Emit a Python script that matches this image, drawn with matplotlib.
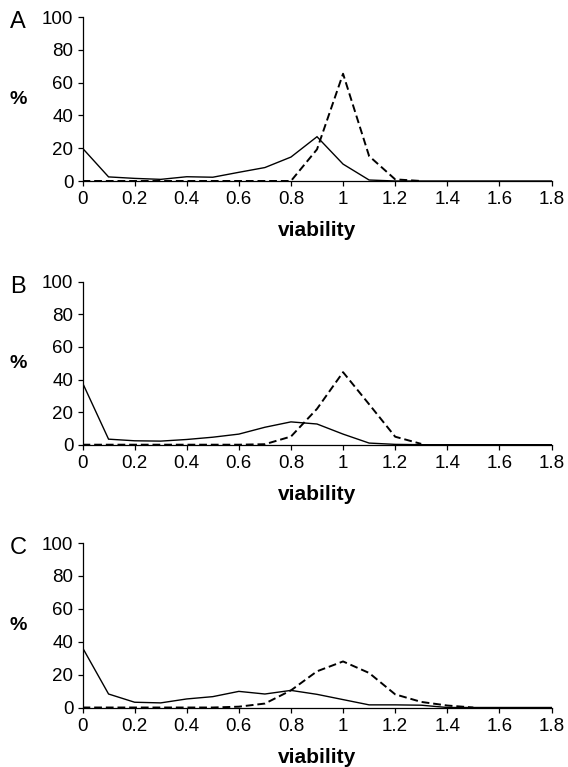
import matplotlib
matplotlib.use("Agg")
from matplotlib import pyplot as plt

plt.rcParams['font.family'] = ['Liberation Sans', 'DejaVu Sans']

# viability bins
viability = [0.0, 0.1, 0.2, 0.3, 0.4, 0.5, 0.6, 0.7, 0.8, 0.9,
             1.0, 1.1, 1.2, 1.3, 1.4, 1.5, 1.6, 1.7, 1.8]

# panel A
a_solid = [20, 2.5, 1.6, 1.0, 2.6, 2.3, 5.3, 8.2, 14.6, 27,
           10.3, 0.6, 0, 0, 0, 0, 0, 0, 0]
a_dashed = [0, 0, 0, 0, 0, 0, 0, 0, 0, 19.3, 65.4, 15.2, 1.0, 0]

# panel B
b_solid = [38, 3.4, 2.4, 2.2, 3.2, 4.6, 6.5, 10.7, 14, 12.7,
           6.5, 1.0, 0.2, 0, 0, 0, 0, 0, 0]
b_dashed = [0, 0, 0, 0, 0, 0, 0, 0.3, 5, 22, 44.5, 24.8, 4.9, 0.5]

# panel C
c_solid = [36.4, 8.2, 3.2, 2.8, 5.2, 6.6, 9.8, 8.2, 10.4, 8,
           4.8, 1.6, 1.6, 1.4, 0, 0, 0, 0, 0]
c_dashed = [0, 0, 0, 0, 0, 0, 0.5, 2.4, 10.4, 22, 28, 21, 8, 3.4, 1.2, 0]

panels = [
    ('A', a_solid, a_dashed),
    ('B', b_solid, b_dashed),
    ('C', c_solid, c_dashed),
]

x_ticks = [0, 0.2, 0.4, 0.6, 0.8, 1.0, 1.2, 1.4, 1.6, 1.8]
x_tick_labels = ['0', '0.2', '0.4', '0.6', '0.8', '1', '1.2', '1.4', '1.6', '1.8']
y_ticks = [0, 20, 40, 60, 80, 100]

W, H = 568, 767
fig = plt.figure(figsize=(W / 100, H / 100), dpi=100)

# pixel boxes (top, bottom) of each plot area
boxes = [(17, 181), (281.7, 444.7), (543, 707.5)]
left_px, right_px = 82.5, 551.5

for (letter, solid, dashed), (top, bottom) in zip(panels, boxes):
    ax = fig.add_axes([left_px / W, 1 - bottom / H,
                       (right_px - left_px) / W, (bottom - top) / H])
    ax.plot(viability, solid, color='black', lw=1.0, solid_joinstyle='miter')
    ax.plot(viability[:len(dashed)], dashed, color='black', lw=1.4,
            linestyle=(0, (4, 2)))

    ax.set_xlim(0, 1.8)
    ax.set_ylim(0, 100)
    ax.set_xticks(x_ticks)
    ax.set_xticklabels(x_tick_labels)
    ax.set_yticks(y_ticks)
    for side in ('top', 'right'):
        ax.spines[side].set_visible(False)
    for side in ('left', 'bottom'):
        ax.spines[side].set_linewidth(0.9)
    ax.tick_params(direction='out', length=3.5, width=0.9, labelsize=13.5, pad=3)
    ax.tick_params(axis='x', pad=4)

    ax.text(0.5, -50 / (bottom - top), 'viability', transform=ax.transAxes,
            ha='center', va='center', fontsize=15, fontweight='bold')
    ax.text((18 - left_px) / (right_px - left_px), 0.5, '%', transform=ax.transAxes,
            ha='center', va='center', fontsize=14, fontweight='bold')
    fig.text(10 / W, 1 - (top + 5.5) / H, letter, ha='left', va='center', fontsize=17)

fig.savefig('out.png', dpi=100)
